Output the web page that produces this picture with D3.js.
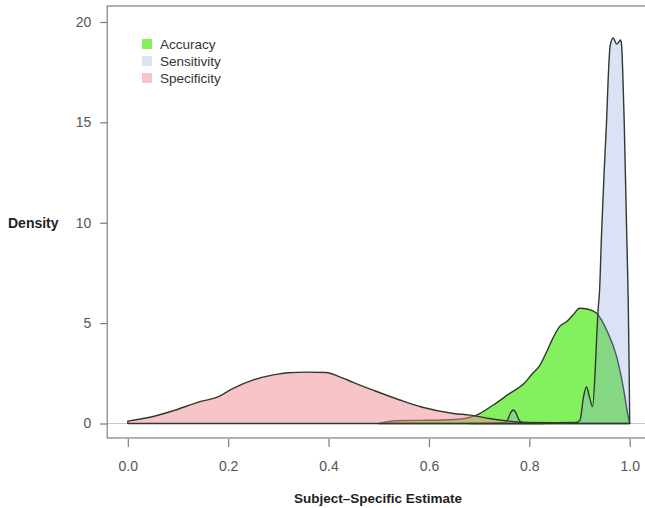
<!DOCTYPE html>
<html>
<head>
<meta charset="utf-8">
<script src="https://cdn.jsdelivr.net/npm/d3@7"></script>
<style>
  body { margin: 0; background: #fff; }
  text { font-family: "Liberation Sans", Arial, sans-serif; }
</style>
</head>
<body>
<div id="chart"></div>
<script>
// density curves (x = estimate, d = density)
let accX = [0.50, 0.52, 0.55, 0.60, 0.65, 0.68, 0.695, 0.728, 0.761, 0.79, 0.805, 0.821, 0.835, 0.848, 0.861, 0.874, 0.887, 0.900, 0.917, 0.934, 0.954, 0.974, 0.987, 0.997, 1.0];
let accD = [0, 0.1, 0.15, 0.16, 0.2, 0.3, 0.42, 0.92, 1.5, 2.0, 2.45, 2.9, 3.6, 4.3, 4.85, 5.07, 5.4, 5.74, 5.69, 5.49, 4.66, 3.33, 1.83, 0.34, 0];

let senX = [0.68, 0.75, 0.757, 0.762, 0.768, 0.774, 0.779, 0.786, 0.85, 0.893, 0.901, 0.908, 0.914, 0.920, 0.926, 0.931, 0.934, 0.937, 0.940, 0.944, 0.949, 0.954, 0.957, 0.961, 0.967, 0.974, 0.982, 0.984, 0.986, 0.989, 0.994, 0.997, 0.999, 1.0];
let senD = [0, 0.04, 0.2, 0.5, 0.67, 0.5, 0.2, 0.05, 0.04, 0.05, 0.17, 1.33, 1.83, 1.3, 0.84, 2.5, 4.2, 5.65, 6.65, 9.5, 12.5, 15.1, 17.1, 18.8, 19.2, 18.9, 19.1, 18.8, 17.6, 15.1, 9.5, 6.2, 2.5, 0];

let speX = [0, 0.044, 0.091, 0.144, 0.177, 0.21, 0.25, 0.29, 0.32, 0.356, 0.395, 0.42, 0.449, 0.49, 0.542, 0.585, 0.649, 0.682, 0.72, 0.76, 0.8, 0.83];
let speD = [0.12, 0.31, 0.64, 1.09, 1.3, 1.75, 2.17, 2.42, 2.53, 2.56, 2.54, 2.35, 2.05, 1.65, 1.17, 0.82, 0.5, 0.42, 0.25, 0.12, 0.04, 0];

let series = ['Accuracy', 'Sensitivity', 'Specificity'];
let fills = ['rgb(132,240,94)', 'rgba(138,158,222,0.3)', 'rgba(241,137,145,0.5)'];
let keyColors = ['#84f05e', '#dce2f5', '#f8c4c8'];
let xTicks = [0, 0.2, 0.4, 0.6, 0.8, 1.0];
let yTicks = [0, 5, 10, 15, 20];

let curves = [
    accX.map((v, i) => [v, accD[i]]),
    senX.map((v, i) => [v, senD[i]]),
    speX.map((v, i) => [v, speD[i]])
];

let svg = d3.select('#chart').append('svg')
    .attr('width', 645)
    .attr('height', 508);

let x = d3.scaleLinear().domain([0, 1]).range([127.8, 629.7]);
let y = d3.scaleLinear().domain([0, 20]).range([423.5, 22]);

let boxL = x(-0.041), boxR = x(1.041), boxT = y(20.8), boxB = y(-0.72);

// zero line
svg.append('line')
    .attr('x1', boxL).attr('x2', boxR)
    .attr('y1', y(0)).attr('y2', y(0))
    .attr('stroke', '#c8c8c8')
    .attr('stroke-width', 1);

let area = d3.area()
    .curve(d3.curveMonotoneX)
    .x(d => x(d[0]))
    .y0(y(0))
    .y1(d => y(d[1]));

svg.append('g')
    .selectAll('path')
    .data(curves)
    .join('path')
    .attr('d', d => area(d))
    .attr('fill', (d, i) => fills[i])
    .attr('stroke', '#2e3a2e')
    .attr('stroke-width', 1.4)
    .attr('stroke-linejoin', 'round');

// frame
svg.append('rect')
    .attr('x', boxL).attr('y', boxT)
    .attr('width', boxR - boxL).attr('height', boxB - boxT)
    .attr('fill', 'none')
    .attr('stroke', '#8a8a8a')
    .attr('stroke-width', 1.3);

let yAxis = svg.append('g')
    .attr('transform', `translate(${boxL},0)`)
    .call(d3.axisLeft(y).tickValues(yTicks).tickSize(7).tickPadding(9));
let xAxis = svg.append('g')
    .attr('transform', `translate(0,${boxB + 1})`)
    .call(d3.axisBottom(x).tickValues(xTicks).tickFormat(d3.format('.1f')).tickSize(8).tickPadding(14));

[xAxis, yAxis].forEach(ax => {
    ax.select('.domain').remove();
    ax.selectAll('line').attr('stroke', '#7a7a7a').attr('stroke-width', 1.2);
    ax.selectAll('text')
        .attr('fill', '#555')
        .style('font-family', '"Liberation Sans", Arial, sans-serif')
        .attr('font-size', 14);
});

svg.append('text')
    .attr('x', 8).attr('y', y(10))
    .attr('dy', '0.35em')
    .attr('font-size', 14)
    .attr('font-weight', 'bold')
    .attr('fill', '#222')
    .text('Density');

svg.append('text')
    .attr('x', 378).attr('y', 503)
    .attr('text-anchor', 'middle')
    .attr('font-size', 13.5)
    .attr('font-weight', 'bold')
    .attr('fill', '#222')
    .text('Subject\u2013Specific Estimate');

// legend
let legend = svg.append('g')
    .attr('transform', 'translate(142,44)');
legend.selectAll('rect')
    .data(series)
    .join('rect')
    .attr('x', 0)
    .attr('y', (d, i) => i * 17 - 5)
    .attr('width', 10).attr('height', 10)
    .attr('fill', (d, i) => keyColors[i]);
legend.selectAll('text')
    .data(series)
    .join('text')
    .attr('x', 18)
    .attr('y', (d, i) => i * 17)
    .attr('dy', '0.35em')
    .attr('font-size', 13.5)
    .attr('fill', '#333')
    .text(d => d);
</script>
</body>
</html>
